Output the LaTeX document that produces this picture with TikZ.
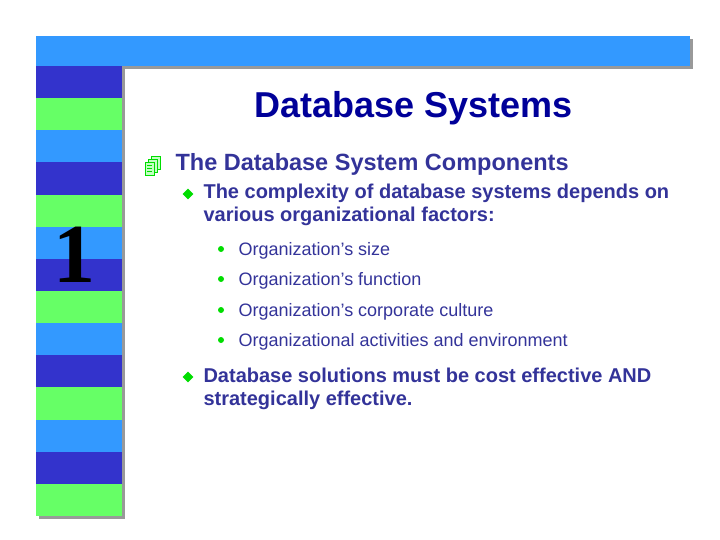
\documentclass[tikz,border=0pt]{standalone}
\usepackage{fontspec}
\setmainfont{Liberation Sans}
\newfontfamily\seriffont{Liberation Serif}
\usetikzlibrary{shapes.geometric}
\definecolor{dblue}{HTML}{3333CC}
\definecolor{lblue}{HTML}{3399FF}
\definecolor{lgreen}{HTML}{66FF66}
\definecolor{txt}{HTML}{333399}
\definecolor{ttl}{HTML}{000099}
\definecolor{bgreen}{HTML}{00DD00}
\tikzset{
 l1/.style={anchor=base west,text=txt,font=\fontsize{23.5}{28}\selectfont\bfseries},
 l2/.style={anchor=north west,text=txt,font=\fontsize{20}{23.5}\selectfont\bfseries,align=left},
 l3/.style={anchor=base west,text=txt,font=\fontsize{18}{21}\selectfont},
 dia/.style={diamond,fill=bgreen,minimum size=11pt,inner sep=0pt},
 dot/.style={circle,fill=bgreen,minimum size=6pt,inner sep=0pt},
 pg/.style={draw=bgreen,fill=lgreen!40,line width=0.8pt}
}
\begin{document}
\begin{tikzpicture}[x=1pt,y=-1pt]
\useasboundingbox (0,0) rectangle (720,540);
\fill[gray!80] (39,39) rectangle (693,69);
\fill[gray!80] (39,69) rectangle (125,519);
\fill[lblue] (36,36) rectangle (690,66);
\foreach \i/\c in {0/dblue,1/lgreen,2/lblue,3/dblue,4/lgreen,5/lblue,6/dblue,7/lgreen,8/lblue,9/dblue,10/lgreen,11/lblue,12/dblue,13/lgreen}
  \fill[\c] (36,66+32.14*\i) rectangle (122,66+32.14*\i+32.14);
\node[font=\seriffont\bfseries\fontsize{84}{84}\selectfont] (one) at (74,255) {1};
\node[text=ttl,font=\bfseries\fontsize{36}{40}\selectfont] (title) at (414,108) {Database Systems};
% icon
\draw[pg] (151,156) rectangle (160,169);
\draw[pg] (148,159) rectangle (157,172);
\draw[pg] (145,162) rectangle (154,175);
\foreach \y in {165,168,171} \draw[bgreen,line width=0.6pt] (147,\y) -- (152,\y);
\node[l1] (a) at (172,171) {The Database System Components};
\node[dia] (d1) at (188,194) {};
\node[l2] (b) at (200,180) {The complexity of database systems depends on\\various organizational factors:};
\node[dot] (p1) at (221,249) {};
\node[l3] (c1) at (235,255) {Organization’s size};
\node[dot] (p2) at (221,279) {};
\node[l3] (c2) at (235,285) {Organization’s function};
\node[dot] (p3) at (221,310) {};
\node[l3] (c3) at (235,316) {Organization’s corporate culture};
\node[dot] (p4) at (221,340) {};
\node[l3] (c4) at (235,346) {Organizational activities and environment};
\node[dia] (d2) at (188,377) {};
\node[l2] (e) at (200,364) {Database solutions must be cost effective AND\\strategically effective.};
\end{tikzpicture}
\end{document}
